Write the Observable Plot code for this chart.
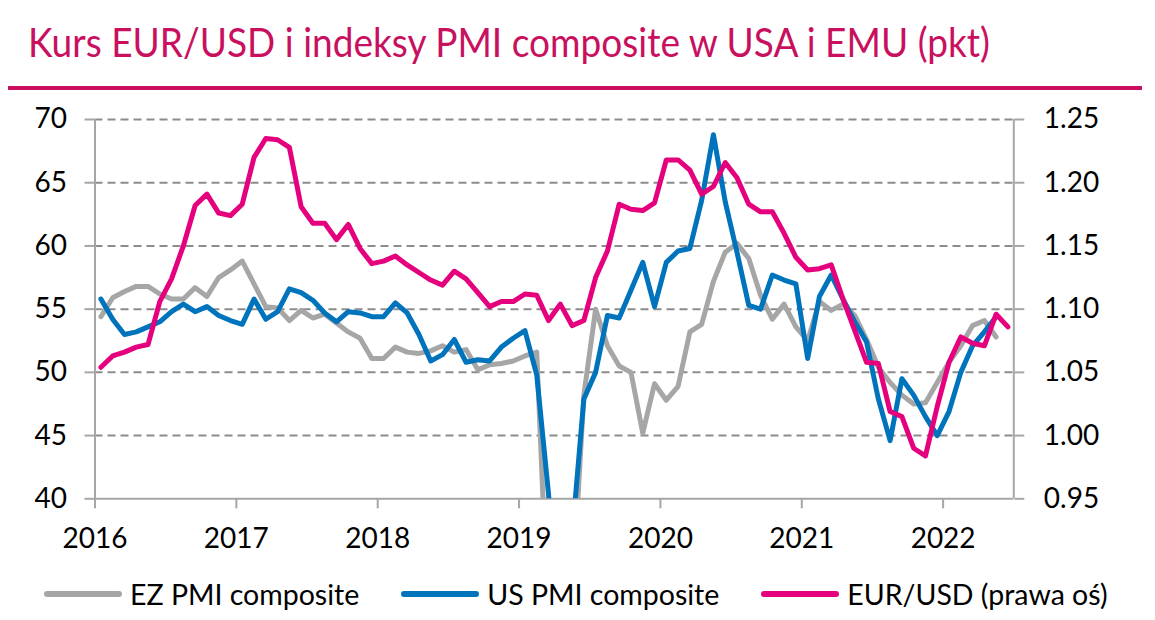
<!DOCTYPE html>
<html>
<head>
<meta charset="utf-8">
<script src="https://cdn.jsdelivr.net/npm/d3@7"></script>
<script src="https://cdn.jsdelivr.net/npm/@observablehq/plot@0.6"></script>
<style>
  body { margin: 0; background: #fff; }
  #wrap { position: relative; width: 1155px; height: 620px; overflow: hidden; background: #fff; font-family: Lato, sans-serif; }
  #chart { position: absolute; left: 0; top: 0; }
  #title { position: absolute; left: 0; top: 0; }
  #rule { position: absolute; left: 8px; top: 85.5px; width: 1134px; height: 4px; background: #c8105f; }
  #legend { position: absolute; left: 44px; top: 576px; height: 36px; display: flex; align-items: center; gap: 42px; }
  .item { display: flex; align-items: center; }
  .swatch { width: 78px; height: 6px; border-radius: 3px; margin-right: 8px; }
  .label { font-size: 28.5px; color: #000; line-height: 36px; white-space: nowrap; }
</style>
</head>
<body>
<div id="wrap">
  <div id="chart"></div>
  <svg id="title" width="1155" height="80">
    <text x="28" y="57" font-family="Lato, sans-serif" font-size="40" fill="#c8105f"
          textLength="962" lengthAdjust="spacingAndGlyphs">Kurs EUR/USD i indeksy PMI composite w USA i EMU (pkt)</text>
  </svg>
  <div id="rule"></div>
  <div id="legend"></div>
</div>
<script>
// Monthly series, first point in the first month of 2016 (left axis: PMI points, right axis: EUR/USD)
const ezPmi = [
  54.4, 55.9, 56.4, 56.8, 56.8, 56.2, 55.8, 55.8, 56.7, 56.0, 57.5, 58.1,
  58.8, 57.0, 55.2, 55.1, 54.1, 54.9, 54.3, 54.6, 53.9, 53.2, 52.7, 51.1,
  51.1, 52.0, 51.6, 51.5, 51.7, 52.1, 51.6, 51.8, 50.2, 50.6, 50.7, 50.9,
  51.3, 51.6, 29.7, 13.6, 31.9, 48.2, 55.0, 52.1, 50.5, 50.0, 45.2, 49.1,
  47.8, 48.9, 53.2, 53.8, 57.2, 59.5, 60.2, 59.0, 56.1, 54.2, 55.4, 53.6,
  52.5, 55.6, 54.9, 55.4, 54.5, 52.6, 50.4, 49.2, 48.2, 47.5, 47.6, 49.2,
  50.8, 52.1, 53.7, 54.1, 52.8
];
const usPmi = [
  55.8, 54.2, 53.0, 53.2, 53.6, 54.0, 54.8, 55.4, 54.8, 55.2, 54.5, 54.1,
  53.8, 55.8, 54.2, 54.8, 56.6, 56.3, 55.7, 54.7, 54.0, 54.8, 54.7, 54.4,
  54.4, 55.5, 54.7, 53.0, 50.9, 51.4, 52.6, 50.8, 51.0, 50.9, 52.0, 52.7,
  53.3, 49.8, 40.4, 27.0, 37.0, 47.9, 50.0, 54.5, 54.3, 56.5, 58.7, 55.2,
  58.7, 59.6, 59.8, 63.6, 68.8, 63.5, 59.5, 55.3, 55.0, 57.7, 57.3, 57.0,
  51.1, 56.0, 57.7, 55.8, 54.0, 52.4, 47.9, 44.6, 49.5, 48.2, 46.5, 45.0,
  46.9, 50.0, 52.1, 53.2, 54.4
];
const eurUsd = [
  1.054, 1.063, 1.066, 1.070, 1.072, 1.106, 1.124, 1.150, 1.182, 1.191, 1.176, 1.174,
  1.183, 1.220, 1.235, 1.234, 1.228, 1.181, 1.168, 1.168, 1.155, 1.167, 1.148, 1.136,
  1.138, 1.142, 1.135, 1.129, 1.123, 1.119, 1.130, 1.124, 1.113, 1.102, 1.106, 1.106,
  1.112, 1.111, 1.091, 1.104, 1.087, 1.091, 1.125, 1.146, 1.183, 1.179, 1.178, 1.184,
  1.218, 1.218, 1.210, 1.191, 1.197, 1.216, 1.204, 1.183, 1.177, 1.177, 1.160, 1.141,
  1.131, 1.132, 1.135, 1.108, 1.083, 1.058, 1.057, 1.019, 1.015, 0.990, 0.984, 1.023,
  1.058, 1.078, 1.073, 1.071, 1.096, 1.086
];

const yearTicks = [2016, 2017, 2018, 2019, 2020, 2021, 2022];
const pmiTicks = [40, 45, 50, 55, 60, 65, 70];
const eurTicks = [0.95, 1.00, 1.05, 1.10, 1.15, 1.20, 1.25];

const seriesNames = ["EZ PMI composite", "US PMI composite", "EUR/USD (prawa oś)"];
const seriesColors = ["#a6a6a6", "#0073bd", "#e5007d"];

// Horizontal position: centre of each month on a fractional-year scale
const firstYear = 2016;
const monthPos = i => firstYear + (i + 0.5) / 12;

// The right axis (0.95–1.25) is laid over the left one (40–70)
const eurToPmi = v => 40 + (v - 0.95) * 100;
const pmiToEur = v => 0.95 + (v - 40) / 100;

const toRows = (values, map = v => v) => values.map((v, i) => ({x: monthPos(i), y: map(v)}));

const axisGray = "#a6a6a6";
const lineStyle = {x: "x", y: "y", strokeWidth: 5, strokeLinejoin: "round", strokeLinecap: "round", clip: true};

const chart = Plot.plot({
  width: 1155,
  height: 620,
  marginTop: 119,
  marginBottom: 121.7,
  marginLeft: 94.5,
  marginRight: 141.7,
  x: {domain: [2016, 2022.5]},
  y: {domain: [40, 70]},
  style: {fontFamily: "Lato, sans-serif", fontSize: "28px", color: "#000", background: "transparent"},
  marks: [
    Plot.ruleY(pmiTicks.filter(d => d > 40), {stroke: "#8c8c8c", strokeWidth: 2, strokeDasharray: "8,5"}),
    Plot.ruleX([2016, 2022.5], {stroke: axisGray, strokeWidth: 2}),
    Plot.ruleY([40], {stroke: axisGray, strokeWidth: 2}),
    Plot.axisX(yearTicks, {anchor: "bottom", tickSize: 10, tickPadding: 19, stroke: axisGray, strokeWidth: 2,
      tickFormat: d => String(d), label: null}),
    Plot.axisY(pmiTicks, {anchor: "left", tickSize: 10, tickPadding: 18, stroke: axisGray, strokeWidth: 2,
      tickFormat: d => String(d), label: null}),
    Plot.axisY(eurTicks.map(eurToPmi), {anchor: "right", tickSize: 10, tickPadding: 20, stroke: axisGray, strokeWidth: 2,
      tickFormat: d => pmiToEur(d).toFixed(2), label: null}),
    Plot.line(toRows(ezPmi), {...lineStyle, stroke: seriesColors[0]}),
    Plot.line(toRows(usPmi), {...lineStyle, stroke: seriesColors[1]}),
    Plot.line(toRows(eurUsd, eurToPmi), {...lineStyle, stroke: seriesColors[2]})
  ]
});
document.getElementById("chart").appendChild(chart);

// Legend below the chart
const legend = document.getElementById("legend");
seriesNames.forEach((name, k) => {
  const item = document.createElement("div");
  item.className = "item";
  const sw = document.createElement("div");
  sw.className = "swatch";
  sw.style.background = seriesColors[k];
  const lab = document.createElement("span");
  lab.className = "label";
  lab.textContent = name;
  item.appendChild(sw);
  item.appendChild(lab);
  legend.appendChild(item);
});
</script>
</body>
</html>
